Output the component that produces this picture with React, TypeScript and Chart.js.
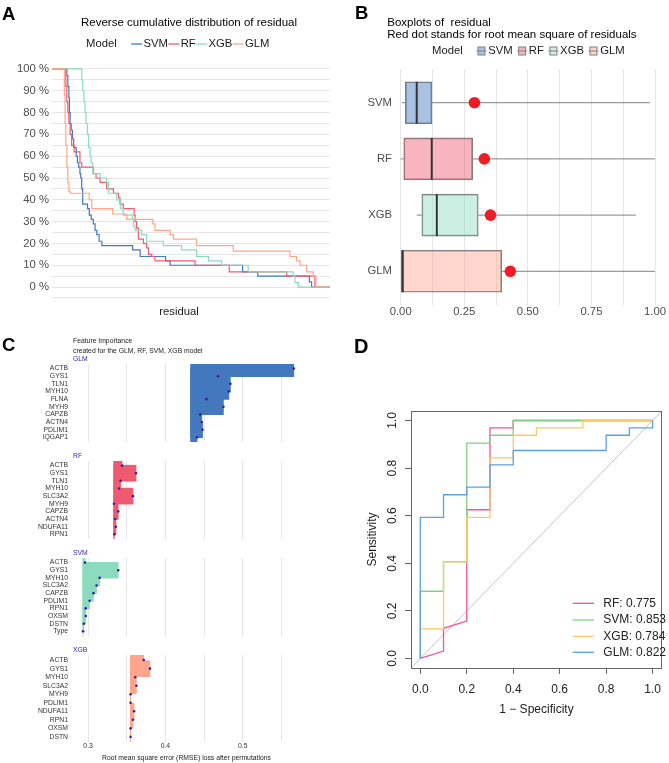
import React, { useEffect, useRef } from 'react';
import { Chart, registerables } from 'chart.js';
Chart.register(...registerables);

const FONT = "'Liberation Sans', Arial, Helvetica, sans-serif";
Chart.defaults.font.family = FONT;

// ---------------- Panel A : reverse cumulative distribution ----------------
const A_TITLE = 'Reverse cumulative distribution of residual';
const A_MODELS = ['SVM', 'RF', 'XGB', 'GLM'];
const A_COLORS = ['#4378bf', '#f05a71', '#8bdcbe', '#ffa58c'];
const A_Y_GRID = [-5, 0, 5, 10, 15, 20, 25, 30, 35, 40, 45, 50, 55, 60, 65, 70, 75, 80, 85, 90, 95, 100];

const A_SVM_RESID = [-0.048, 0.011, 0.015, 0.019, 0.021, 0.024, 0.028, 0.033, 0.038, 0.048, 0.053, 0.058, 0.063, 0.066, 0.07, 0.074, 0.093, 0.1, 0.108, 0.116, 0.123, 0.13, 0.139, 0.15, 0.272, 0.302, 0.403, 0.421, 0.709, 0.769, 0.974, 0.983, 1.056];
const A_SVM_PCT = [100, 97, 92, 87, 80, 75, 72, 68, 64, 60, 57, 55, 52, 50, 45, 38, 36, 33, 31, 29, 26, 24, 21, 19, 17, 14, 12, 10, 7, 5, 2.4, 0, 0];

const A_RF_RESID = [-0.048, 0.007, 0.011, 0.015, 0.019, 0.024, 0.03, 0.04, 0.063, 0.07, 0.116, 0.127, 0.143, 0.169, 0.196, 0.216, 0.222, 0.235, 0.278, 0.282, 0.288, 0.295, 0.315, 0.328, 0.335, 0.348, 0.361, 0.52, 0.656, 0.884, 0.996, 1.056];
const A_RF_PCT = [100, 92, 85, 80, 75, 70, 65, 62, 57, 55, 52, 50, 48, 45, 43, 41, 38, 36, 33, 30, 27, 22, 20, 18, 15, 14, 12, 10, 7, 5, 0, 0];

const A_XGB_RESID = [-0.048, 0.07, 0.074, 0.079, 0.083, 0.087, 0.093, 0.097, 0.103, 0.107, 0.114, 0.143, 0.169, 0.176, 0.209, 0.225, 0.235, 0.272, 0.275, 0.282, 0.308, 0.328, 0.394, 0.467, 0.526, 0.573, 0.626, 0.731, 0.91, 0.917, 0.93, 1.056];
const A_XGB_PCT = [100, 95, 90, 85, 80, 75, 70, 64, 60, 57, 52, 50, 48, 43, 40, 36, 33, 31, 28, 26, 24, 21, 19, 17, 14, 12, 10, 7, 5, 2, 0, 0];

const A_GLM_RESID = [-0.048, 0.001, 0.004, 0.007, 0.011, 0.015, 0.019, 0.024, 0.1, 0.11, 0.193, 0.249, 0.352, 0.361, 0.421, 0.434, 0.526, 0.672, 0.897, 0.923, 0.937, 0.963, 0.989, 1.0, 1.056];
const A_GLM_PCT = [100, 88, 75, 65, 55, 48, 44, 43, 40, 36, 33.5, 31, 29, 26, 24, 22, 19, 16.5, 14, 12, 10, 7, 5, 0, 0];

// ---------------- Panel B : boxplots of residuals ----------------
const B_TITLE_1 = 'Boxplots of  residual';
const B_TITLE_2 = 'Red dot stands for root mean square of residuals';
const B_MODELS = ['SVM', 'RF', 'XGB', 'GLM'];
const B_COLORS = ['#4378bf', '#f05a71', '#8bdcbe', '#ffa58c'];
const B_WMIN = [0.004, 0.0, 0.063, 0.0];
const B_Q1 = [0.018, 0.012, 0.083, 0.0];
const B_MEDIAN = [0.063, 0.122, 0.142, 0.008];
const B_Q3 = [0.123, 0.283, 0.305, 0.397];
const B_WMAX = [0.98, 1.0, 0.925, 1.0];
const B_RMSE = [0.29, 0.329, 0.353, 0.431];
const B_X_GRID = [0, 0.125, 0.25, 0.375, 0.5, 0.625, 0.75, 0.875, 1];

// ---------------- Panel C : feature importance ----------------
const C_TITLE_1 = 'Feature Importance';
const C_TITLE_2 = 'created for the GLM, RF, SVM, XGB model';
const C_X_TITLE = 'Root mean square error (RMSE) loss after permutations';
const C_X_GRID = [0.3, 0.35, 0.4, 0.45, 0.5, 0.55];
const C_X_LABELS = ['0.3', '0.4', '0.5'];

const C_GLM_FEATURES = ['ACTB', 'GYS1', 'TLN1', 'MYH10', 'FLNA', 'MYH9', 'CAPZB', 'ACTN4', 'PDLIM1', 'IQGAP1'];
const C_GLM_LOSS = [0.566, 0.468, 0.484, 0.482, 0.453, 0.475, 0.445, 0.447, 0.448, 0.441];
const C_GLM_BASE = 0.4325;

const C_RF_FEATURES = ['ACTB', 'GYS1', 'TLN1', 'MYH10', 'SLC3A2', 'MYH9', 'CAPZB', 'ACTN4', 'NDUFA11', 'RPN1'];
const C_RF_LOSS = [0.344, 0.362, 0.342, 0.34, 0.358, 0.3335, 0.339, 0.335, 0.336, 0.334];
const C_RF_BASE = 0.3331;

const C_SVM_FEATURES = ['ACTB', 'GYS1', 'MYH10', 'SLC3A2', 'CAPZB', 'PDLIM1', 'RPN1', 'OXSM', 'DSTN', 'Type'];
const C_SVM_LOSS = [0.296, 0.339, 0.315, 0.311, 0.307, 0.302, 0.297, 0.297, 0.2945, 0.2935];
const C_SVM_BASE = 0.2932;

const C_XGB_FEATURES = ['ACTB', 'GYS1', 'MYH10', 'SLC3A2', 'MYH9', 'PDLIM1', 'NDUFA11', 'RPN1', 'OXSM', 'DSTN'];
const C_XGB_LOSS = [0.372, 0.38, 0.361, 0.3625, 0.355, 0.355, 0.3595, 0.358, 0.355, 0.355];
const C_XGB_BASE = 0.3546;

// ---------------- Panel D : ROC curves ----------------
const D_TICKS = [0, 0.2, 0.4, 0.6, 0.8, 1.0];
const D_TICK_LABELS = ['0.0', '0.2', '0.4', '0.6', '0.8', '1.0'];
const D_LEGEND = ['RF: 0.775', 'SVM: 0.853', 'XGB: 0.784', 'GLM: 0.822'];
const D_COLORS = ['#f2529e', '#83cf87', '#ffc862', '#5ba3e0'];

const D_RF_FPR = [0, 0.1, 0.1, 0.2, 0.2, 0.3, 0.3, 0.4, 0.4, 1.0];
const D_RF_TPR = [0, 0.031, 0.127, 0.157, 0.625, 0.625, 0.969, 0.969, 1.0, 1.0];
const D_SVM_FPR = [0, 0, 0.1, 0.1, 0.2, 0.2, 0.3, 0.3, 0.4, 0.4, 1.0];
const D_SVM_TPR = [0, 0.2825, 0.2825, 0.406, 0.406, 0.905, 0.905, 0.938, 0.938, 1.0, 1.0];
const D_XGB_FPR = [0, 0, 0.1, 0.1, 0.2, 0.2, 0.3, 0.3, 0.4, 0.4, 0.5, 0.5, 0.7, 0.7, 1.0];
const D_XGB_TPR = [0, 0.1245, 0.1245, 0.406, 0.406, 0.593, 0.593, 0.843, 0.843, 0.938, 0.938, 0.969, 0.969, 1.0, 1.0];
const D_GLM_FPR = [0, 0, 0.1, 0.1, 0.2, 0.2, 0.3, 0.3, 0.4, 0.4, 0.8, 0.8, 0.9, 0.9, 1.0, 1.0];
const D_GLM_TPR = [0, 0.593, 0.593, 0.688, 0.688, 0.72, 0.72, 0.814, 0.814, 0.874, 0.874, 0.938, 0.938, 0.969, 0.969, 1.0];

// ---------------- helpers ----------------
function drawText(ctx: any, s: string, x: number, y: number, o: any) {
  ctx.save();
  ctx.font = `${o.weight || 'normal'} ${o.size}px ${FONT}`;
  ctx.fillStyle = o.color || '#000';
  ctx.textAlign = o.align || 'left';
  ctx.textBaseline = o.baseline || 'middle';
  ctx.translate(x, y);
  if (o.rotate) ctx.rotate(o.rotate);
  ctx.fillText(s, 0, 0);
  ctx.restore();
}
function measure(ctx: any, s: string, size: number) {
  ctx.save();
  ctx.font = `normal ${size}px ${FONT}`;
  const w = ctx.measureText(s).width;
  ctx.restore();
  return w;
}
function rgba(hex: string, a: number) {
  const n = parseInt(hex.slice(1), 16);
  return `rgba(${(n >> 16) & 255},${(n >> 8) & 255},${n & 255},${a})`;
}
const pts = (xs: number[], ys: number[]) => xs.map((x, i) => ({ x, y: ys[i] }));

// ---------------- Panel A config ----------------
function configA() {
  const series = [
    { label: 'GLM', x: A_GLM_RESID, y: A_GLM_PCT, c: A_COLORS[3] },
    { label: 'XGB', x: A_XGB_RESID, y: A_XGB_PCT, c: A_COLORS[2] },
    { label: 'RF', x: A_RF_RESID, y: A_RF_PCT, c: A_COLORS[1] },
    { label: 'SVM', x: A_SVM_RESID, y: A_SVM_PCT, c: A_COLORS[0] },
  ];
  const plugin = {
    id: 'panelA',
    afterDraw(chart: any) {
      const ctx = chart.ctx;
      drawText(ctx, 'A', 2, 20, { size: 18.5, weight: 'bold', baseline: 'alphabetic' });
      drawText(ctx, A_TITLE, 189, 23, { size: 11.5, align: 'center' });
      const y = 44;
      let x = 86;
      drawText(ctx, 'Model', x, y, { size: 11.3, color: '#1a1a1a' });
      x += measure(ctx, 'Model', 11.3) + 14.5;
      A_MODELS.forEach((m, i) => {
        ctx.save();
        ctx.strokeStyle = A_COLORS[i];
        ctx.lineWidth = 1.3;
        ctx.beginPath();
        ctx.moveTo(x, y);
        ctx.lineTo(x + 11, y);
        ctx.stroke();
        ctx.restore();
        x += 12.2;
        drawText(ctx, m, x, y, { size: 11.3, color: '#1a1a1a' });
        x += measure(ctx, m, 11.3) + 0.5;
      });
      drawText(ctx, 'residual', 179, 311.7, { size: 11.3, align: 'center', color: '#1a1a1a' });
    },
  };
  return {
    type: 'line',
    data: {
      datasets: series.map((s) => ({
        label: s.label,
        data: pts(s.x, s.y),
        borderColor: s.c,
        borderWidth: 1.2,
        pointRadius: 0,
        stepped: true,
        fill: false,
        clip: 3,
      })),
    },
    options: {
      responsive: false,
      animation: false,
      events: [],
      layout: { autoPadding: false, padding: { left: 4, right: 4, top: 57.5, bottom: 31.5 } },
      plugins: { legend: { display: false }, tooltip: { enabled: false } },
      scales: {
        x: { type: 'linear', min: -0.048, max: 1.056, display: false, offset: false },
        y: {
          type: 'linear',
          offset: false,
          min: -5.25,
          max: 105.25,
          afterBuildTicks: (s: any) => {
            s.ticks = A_Y_GRID.map((v) => ({ value: v }));
          },
          afterFit: (s: any) => {
            s.width = 48;
          },
          ticks: {
            autoSkip: false,
            padding: 3,
            color: '#4d4d4d',
            font: { size: 11.3, family: FONT },
            callback: (v: any) => (v % 10 === 0 ? `${v} %` : ''),
          },
          grid: { color: '#e6e6e6', lineWidth: 1, drawTicks: false, offset: false },
          border: { display: false },
        },
      },
    },
    plugins: [plugin],
  };
}

// ---------------- Panel B config ----------------
function configB() {
  const whiskers: any[] = [];
  B_MODELS.forEach((m, i) => {
    whiskers.push({
      type: 'line',
      label: m + ' low',
      data: [{ x: B_WMIN[i], y: i }, { x: B_Q1[i], y: i }],
      borderColor: '#808080',
      borderWidth: 1,
      pointRadius: 0,
      order: 3,
    });
    whiskers.push({
      type: 'line',
      label: m + ' high',
      data: [{ x: B_Q3[i], y: i }, { x: B_WMAX[i], y: i }],
      borderColor: '#808080',
      borderWidth: 1,
      pointRadius: 0,
      order: 3,
    });
  });
  const plugin = {
    id: 'panelB',
    afterDraw(chart: any) {
      const ctx = chart.ctx;
      drawText(ctx, 'B', 21, 19.3, { size: 18.5, weight: 'bold', baseline: 'alphabetic' });
      drawText(ctx, B_TITLE_1, 53.3, 23.3, { size: 11.5 });
      drawText(ctx, B_TITLE_2, 53.3, 35, { size: 11.5 });
      const y = 51;
      let x = 98;
      drawText(ctx, 'Model', x, y, { size: 11.3, color: '#1a1a1a' });
      x += measure(ctx, 'Model', 11.3) + 13.7;
      B_MODELS.forEach((m, i) => {
        ctx.save();
        ctx.fillStyle = '#fff';
        ctx.fillRect(x + 1.5, y - 4, 7, 8);
        ctx.fillStyle = rgba(B_COLORS[i], 0.45);
        ctx.fillRect(x + 1.5, y - 4, 7, 8);
        ctx.strokeStyle = '#808080';
        ctx.lineWidth = 1;
        ctx.strokeRect(x + 1.5, y - 4, 7, 8);
        ctx.beginPath();
        ctx.moveTo(x, y);
        ctx.lineTo(x + 10, y);
        ctx.stroke();
        ctx.restore();
        x += 11.7;
        drawText(ctx, m, x, y, { size: 11.3, color: '#1a1a1a' });
        x += measure(ctx, m, 11.3) + 4.5;
      });
    },
  };
  return {
    type: 'bar',
    data: {
      datasets: [
        {
          type: 'scatter',
          label: 'RMSE',
          data: B_RMSE.map((v, i) => ({ x: v, y: i })),
          pointRadius: 5.8,
          backgroundColor: '#ee1c24',
          borderWidth: 0,
          order: 0,
        },
        {
          type: 'scatter',
          label: 'median',
          data: B_MEDIAN.map((v, i) => ({ x: v, y: i })),
          pointStyle: 'line',
          rotation: 90,
          pointRadius: 21,
          borderColor: '#333333',
          borderWidth: 2,
          order: 1,
        },
        {
          type: 'bar',
          label: 'box',
          indexAxis: 'y',
          data: B_Q1.map((q, i) => ({ x: [q, B_Q3[i]], y: i })),
          backgroundColor: B_COLORS.map((c) => rgba(c, 0.45)),
          borderColor: '#808080',
          borderWidth: 1,
          borderSkipped: false,
          barThickness: 42,
          order: 2,
        },
        ...whiskers,
      ],
    },
    options: {
      responsive: false,
      animation: false,
      events: [],
      layout: { autoPadding: false, padding: { left: 6, right: 1, top: 69, bottom: 0 } },
      plugins: { legend: { display: false }, tooltip: { enabled: false } },
      scales: {
        x: {
          type: 'linear',
          offset: false,
          min: -0.0224,
          max: 1.0511,
          afterBuildTicks: (s: any) => {
            s.ticks = B_X_GRID.map((v) => ({ value: v }));
          },
          afterFit: (s: any) => {
            s.height = 25;
          },
          ticks: {
            autoSkip: false,
            maxRotation: 0,
            padding: 0,
            color: '#4d4d4d',
            font: { size: 11.3, family: FONT },
            callback: (v: any) => (Math.abs(v * 4 - Math.round(v * 4)) < 1e-9 ? Number(v).toFixed(2) : ''),
          },
          grid: { color: '#e6e6e6', lineWidth: 1, drawTicks: false, offset: false },
          border: { display: false },
        },
        y: {
          type: 'linear',
          offset: false,
          min: -0.6,
          max: 3.6,
          reverse: true,
          afterBuildTicks: (s: any) => {
            s.ticks = B_MODELS.map((_, i) => ({ value: i }));
          },
          afterFit: (s: any) => {
            s.width = 55;
          },
          ticks: {
            autoSkip: false,
            padding: 3,
            color: '#4d4d4d',
            font: { size: 11.3, family: FONT },
            callback: (v: any) => B_MODELS[v] ?? '',
          },
          grid: { display: false, drawTicks: false, offset: false },
          border: { display: false },
        },
      },
    },
    plugins: [plugin],
  };
}

// ---------------- Panel C facet config ----------------
function facetConfig(name: string, features: string[], losses: number[], base: number, color: string, first: boolean, last: boolean) {
  const plugin = {
    id: 'facet' + name,
    afterDraw(chart: any) {
      const ctx = chart.ctx;
      const a = chart.chartArea;
      drawText(ctx, name, a.left, a.top - 4.5, { size: 6.8, color: '#371ea3' });
      if (first) {
        drawText(ctx, 'C', 2, 20.7, { size: 18.5, weight: 'bold', baseline: 'alphabetic' });
        drawText(ctx, C_TITLE_1, 73, 11, { size: 6.8, color: '#222' });
        drawText(ctx, C_TITLE_2, 73, 21, { size: 6.8, color: '#222' });
      }
      if (last) {
        drawText(ctx, C_X_TITLE, (a.left + a.right) / 2, 116.7, { size: 6.8, align: 'center', color: '#222' });
      }
    },
  };
  return {
    type: 'bar',
    data: {
      datasets: [
        {
          type: 'scatter',
          label: 'points',
          data: losses.map((v, i) => ({ x: v, y: i })),
          pointRadius: 1.3,
          backgroundColor: '#371ea3',
          borderWidth: 0,
          order: 0,
        },
        {
          type: 'bar',
          label: name,
          indexAxis: 'y',
          data: losses.map((v, i) => ({ x: [base, v], y: i })),
          backgroundColor: color,
          borderWidth: 0,
          barThickness: 16,
          clip: 0,
          order: 1,
        },
      ],
    },
    options: {
      responsive: false,
      animation: false,
      events: [],
      layout: { autoPadding: false, padding: { left: 13, right: 34, top: first ? 34 : 14, bottom: 0 } },
      plugins: { legend: { display: false }, tooltip: { enabled: false } },
      scales: {
        x: {
          type: 'linear',
          offset: false,
          min: 0.2805,
          max: 0.574,
          afterBuildTicks: (s: any) => {
            s.ticks = C_X_GRID.map((v) => ({ value: v }));
          },
          afterFit: (s: any) => {
            s.height = last ? 21 : 0;
          },
          ticks: {
            display: last,
            autoSkip: false,
            maxRotation: 0,
            padding: 0,
            color: '#333',
            font: { size: 6.8, family: FONT },
            callback: (v: any) => {
              const s = Number(v).toFixed(1);
              return C_X_LABELS.includes(s) && Math.abs(v - parseFloat(s)) < 1e-9 ? s : '';
            },
          },
          grid: { color: '#e6e6e6', lineWidth: 1, drawTicks: false, offset: false },
          border: { display: false },
        },
        y: {
          type: 'linear',
          offset: false,
          min: -0.6,
          max: 9.6,
          reverse: true,
          afterBuildTicks: (s: any) => {
            s.ticks = features.map((_, i) => ({ value: i }));
          },
          afterFit: (s: any) => {
            s.width = 60;
          },
          ticks: {
            autoSkip: false,
            padding: 5,
            color: '#333',
            font: { size: 6.8, family: FONT },
            callback: (v: any) => features[v] ?? '',
          },
          grid: { display: false, drawTicks: false, offset: false },
          border: { display: false },
        },
      },
    },
    plugins: [plugin],
  };
}

// ---------------- Panel D config ----------------
function configD() {
  const curves = [
    { label: 'GLM', x: D_GLM_FPR, y: D_GLM_TPR, c: D_COLORS[3] },
    { label: 'XGB', x: D_XGB_FPR, y: D_XGB_TPR, c: D_COLORS[2] },
    { label: 'SVM', x: D_SVM_FPR, y: D_SVM_TPR, c: D_COLORS[1] },
    { label: 'RF', x: D_RF_FPR, y: D_RF_TPR, c: D_COLORS[0] },
  ];
  const plugin = {
    id: 'panelD',
    afterDraw(chart: any) {
      const ctx = chart.ctx;
      const a = chart.chartArea;
      ctx.save();
      ctx.strokeStyle = '#666';
      ctx.lineWidth = 1;
      ctx.strokeRect(Math.round(a.left) + 0.5, Math.round(a.top) + 0.5, Math.round(a.right - a.left) - 1, Math.round(a.bottom - a.top));
      ctx.restore();
      D_TICKS.forEach((v, i) => {
        drawText(ctx, D_TICK_LABELS[i], 59, chart.scales.y.getPixelForValue(v), { size: 12, align: 'center', rotate: -Math.PI / 2, color: '#222' });
      });
      drawText(ctx, 'Sensitivity', 39, (a.top + a.bottom) / 2, { size: 12, align: 'center', rotate: -Math.PI / 2, color: '#222' });
      drawText(ctx, '1 \u2212 Specificity', (a.left + a.right) / 2, 380, { size: 12, align: 'center', color: '#222' });
      drawText(ctx, 'D', 20, 23, { size: 20, weight: 'bold', baseline: 'alphabetic' });
      const rows = [273.3, 290, 306.3, 322.3];
      D_LEGEND.forEach((s, i) => {
        ctx.save();
        ctx.strokeStyle = D_COLORS[i];
        ctx.lineWidth = 1.3;
        ctx.beginPath();
        ctx.moveTo(238.7, rows[i]);
        ctx.lineTo(260, rows[i]);
        ctx.stroke();
        ctx.restore();
        drawText(ctx, s, 269.3, rows[i], { size: 12, color: '#222' });
      });
    },
  };
  return {
    type: 'line',
    data: {
      datasets: [
        ...curves.map((s) => ({
          label: s.label,
          data: pts(s.x, s.y),
          borderColor: s.c,
          borderWidth: 1.3,
          pointRadius: 0,
          fill: false,
          tension: 0,
          clip: 0,
        })),
        {
          label: 'chance',
          data: [{ x: -0.04, y: -0.04 }, { x: 1.04, y: 1.04 }],
          borderColor: '#c4c4c4',
          borderWidth: 1,
          pointRadius: 0,
          fill: false,
          clip: 0,
        },
      ],
    },
    options: {
      responsive: false,
      animation: false,
      events: [],
      layout: { autoPadding: false, padding: { left: 0, right: 1, top: 81, bottom: 35 } },
      plugins: { legend: { display: false }, tooltip: { enabled: false } },
      scales: {
        x: {
          type: 'linear',
          offset: false,
          min: -0.04,
          max: 1.04,
          afterBuildTicks: (s: any) => {
            s.ticks = D_TICKS.map((v) => ({ value: v }));
          },
          afterFit: (s: any) => {
            s.height = 60;
          },
          ticks: {
            autoSkip: false,
            maxRotation: 0,
            padding: 8,
            color: '#222',
            font: { size: 12, family: FONT },
            callback: (v: any) => D_TICK_LABELS[D_TICKS.indexOf(v)] ?? '',
          },
          grid: { drawOnChartArea: false, drawTicks: true, tickLength: 6, color: '#666', lineWidth: 1 },
          border: { display: false },
        },
        y: {
          type: 'linear',
          offset: false,
          min: -0.04,
          max: 1.04,
          afterBuildTicks: (s: any) => {
            s.ticks = D_TICKS.map((v) => ({ value: v }));
          },
          afterFit: (s: any) => {
            s.width = 77;
          },
          ticks: { display: false },
          grid: { drawOnChartArea: false, drawTicks: true, tickLength: 6, color: '#666', lineWidth: 1 },
          border: { display: false },
        },
      },
    },
    plugins: [plugin],
  };
}

// ---------------- components ----------------
function ChartBox(props: { x: number; y: number; w: number; h: number; make: () => any }) {
  const ref = useRef<HTMLCanvasElement | null>(null);
  useEffect(() => {
    const chart = new Chart(ref.current as HTMLCanvasElement, props.make());
    return () => chart.destroy();
  }, []);
  return (
    <canvas
      ref={ref}
      width={props.w}
      height={props.h}
      style={{ position: 'absolute', left: props.x, top: props.y, width: props.w, height: props.h, display: 'block' }}
    />
  );
}

export default function App() {
  return (
    <div style={{ position: 'absolute', left: 0, top: 0, width: 669, height: 763, background: '#fff', overflow: 'hidden' }}>
      <ChartBox x={0} y={0} w={334} h={330} make={configA} />
      <ChartBox x={334} y={0} w={335} h={330} make={configB} />
      <ChartBox x={0} y={330} w={334} h={121} make={() => facetConfig('GLM', C_GLM_FEATURES, C_GLM_LOSS, C_GLM_BASE, '#4378bf', true, false)} />
      <ChartBox x={0} y={447} w={334} h={101} make={() => facetConfig('RF', C_RF_FEATURES, C_RF_LOSS, C_RF_BASE, '#f05a71', false, false)} />
      <ChartBox x={0} y={544} w={334} h={101} make={() => facetConfig('SVM', C_SVM_FEATURES, C_SVM_LOSS, C_SVM_BASE, '#8bdcbe', false, false)} />
      <ChartBox x={0} y={641} w={334} h={122} make={() => facetConfig('XGB', C_XGB_FEATURES, C_XGB_LOSS, C_XGB_BASE, '#ffa58c', false, true)} />
      <ChartBox x={334} y={330} w={335} h={433} make={configD} />
    </div>
  );
}
